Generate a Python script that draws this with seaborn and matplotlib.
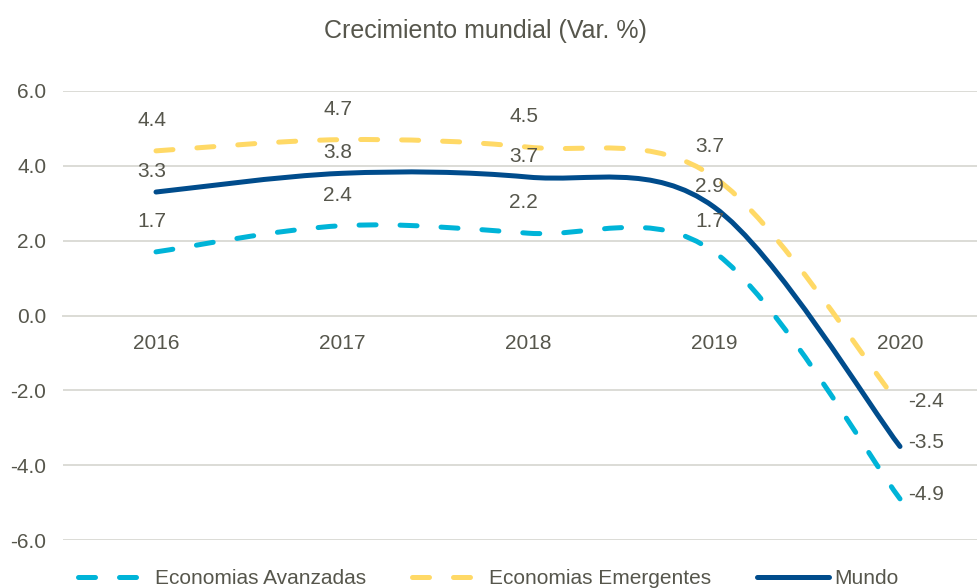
import numpy as np
import seaborn as sns
import matplotlib.pyplot as plt
from matplotlib.path import Path
from matplotlib.patches import PathPatch
from matplotlib.lines import Line2D

# Data
years = ["2016", "2017", "2018", "2019", "2020"]
avanzadas = [1.7, 2.4, 2.2, 1.7, -4.9]
emergentes = [4.4, 4.7, 4.5, 3.7, -2.4]
mundo = [3.3, 3.8, 3.7, 2.9, -3.5]
y_ticks = [-6, -4, -2, 0, 2, 4, 6]

series = [
    ("Economias Avanzadas", avanzadas, "#00B4D8", "dash", 22),
    ("Economias Emergentes", emergentes, "#FFD966", "dash", 22),
    ("Mundo", mundo, "#004C8C", "solid", 15),
]

sns.set_theme(style="white")
plt.rcParams['font.family'] = ['Liberation Sans', 'DejaVu Sans']
plt.rcParams['axes.unicode_minus'] = False
text_color = "#56564C"
grid_color = "#DCDCD6"
fs = 15


def smooth_path(xs, ys):
    # Excel-like smoothed line: Catmull-Rom segments as cubic Bezier curves
    pts = np.column_stack([xs, ys]).astype(float)
    n = len(pts)
    verts = [pts[0]]
    codes = [Path.MOVETO]
    for i in range(n - 1):
        p_prev = pts[max(i - 1, 0)]
        p0, p1 = pts[i], pts[i + 1]
        p_next = pts[min(i + 2, n - 1)]
        verts += [p0 + (p1 - p_prev) / 6, p1 - (p_next - p0) / 6, p1]
        codes += [Path.CURVE4] * 3
    return Path(verts, codes)


fig = plt.figure(figsize=(9.77, 5.88), dpi=100)
ax = fig.add_axes([63 / 977, 1 - 540 / 588, 930 / 977, 449 / 588])

x = np.arange(len(years))
lw = 3.6
dash = (0, (3.4, 4.8))
handles = []
for name, vals, color, style, off in series:
    ls = dash if style == "dash" else "-"
    patch = PathPatch(smooth_path(x, vals), fill=False, edgecolor=color,
                      linewidth=lw, linestyle=ls, capstyle="round",
                      joinstyle="round", zorder=3)
    ax.add_patch(patch)
    handles.append(Line2D([], [], color=color, lw=lw, linestyle=ls,
                          dash_capstyle="round", solid_capstyle="round"))
    for i, v in enumerate(vals):
        if i < len(vals) - 1:
            ax.annotate(f"{v:.1f}", (x[i], v), xytext=(-3, off),
                        textcoords="offset points", ha="center", va="center",
                        fontsize=fs, color=text_color, zorder=4)
        else:
            ax.annotate(f"{v:.1f}", (x[i], v), xytext=(6, 3),
                        textcoords="offset points", ha="left", va="center",
                        fontsize=fs, color=text_color, zorder=4)

ax.set_xlim(-0.5, len(years) - 0.5)
ax.set_ylim(-6, 6)
ax.set_yticks(y_ticks)
ax.set_yticklabels([f"{v:.1f}" for v in y_ticks])
ax.set_xticks(x)
ax.set_xticklabels(years)
ax.set_xticks(np.arange(-0.5, len(years), 1), minor=True)

ax.grid(True, axis="y", color=grid_color, linewidth=1.4)
ax.set_axisbelow(True)
for s in ["top", "right", "left"]:
    ax.spines[s].set_visible(False)
ax.spines["bottom"].set_position(("data", 0))
ax.spines["bottom"].set_color(grid_color)
ax.spines["bottom"].set_linewidth(1.4)

ax.tick_params(axis="y", length=0, pad=12, labelsize=fs, labelcolor=text_color)
ax.tick_params(axis="x", which="major", length=0, pad=13, labelsize=fs,
               labelcolor=text_color)
ax.tick_params(axis="x", which="minor", length=5, width=1.4, color=grid_color,
               direction="out")

fig.text(485 / 977, 1 - 31 / 588, "Crecimiento mundial (Var. %)", ha="center",
         va="center", fontsize=18, color=text_color)

leg = fig.legend(handles, [s[0] for s in series], loc="lower center",
                 bbox_to_anchor=(0.5, -0.014), ncol=3, frameon=False,
                 fontsize=fs, handlelength=3.45, handletextpad=0.25,
                 columnspacing=2.2, borderaxespad=0)
for t in leg.get_texts():
    t.set_color(text_color)

fig.savefig("out.png", dpi=100)
